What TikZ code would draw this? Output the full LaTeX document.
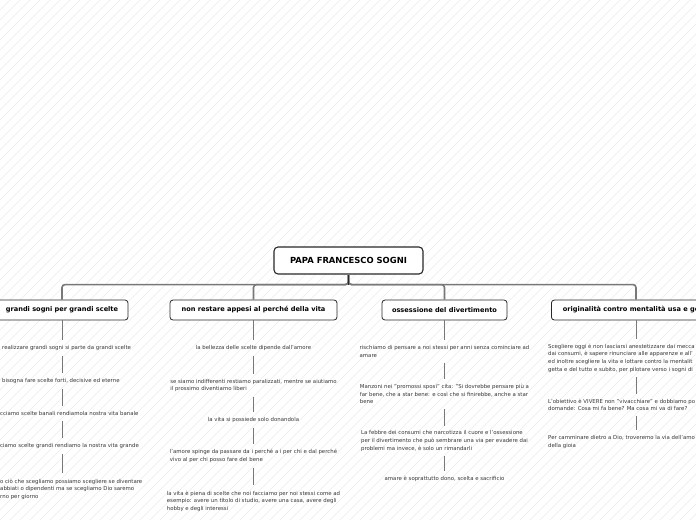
\documentclass[tikz,border=0pt]{standalone}
\usepackage{fontspec}
\setmainfont{DejaVu Sans}
\usetikzlibrary{positioning}
\definecolor{mapLine}{RGB}{120,120,120}
\definecolor{mapEdge}{RGB}{40,40,40}
\definecolor{mapText}{RGB}{55,55,55}
\definecolor{mapHatch}{RGB}{236,236,236}

\begin{document}
\begin{tikzpicture}[
    x=1pt, y=-1pt,
    root/.style={draw=mapEdge, line width=1.1pt, rounded corners=4pt, fill=white, minimum height=27pt, minimum width=149pt, font=\fontsize{8.4}{9}\selectfont\bfseries, text=black},
    topic/.style={draw=mapEdge, line width=0.8pt, rounded corners=3pt, fill=white, minimum height=20pt, inner xsep=6pt, font=\fontsize{6.6}{7}\selectfont\bfseries, text=black},
    leaf/.style={align=left, inner sep=5pt, font=\fontsize{5.4}{7.6}\selectfont, text=mapText},
    branch/.style={draw=mapLine, line width=1.6pt, rounded corners=3pt},
    twig/.style={draw=mapLine, line width=0.9pt}
]
    \useasboundingbox (0,0) rectangle (696,520);
    % background hatch
    \begin{scope}
        \clip (0,0) rectangle (696,520);
        \foreach \i in {0,10,...,1220}
            \draw[mapHatch, line width=0.5pt] (\i-520,520) -- (\i,0);
    \end{scope}

    % root and main topics
    \node[root] (papa) at (348.5,260.5) {PAPA FRANCESCO SOGNI};
    \node[topic, minimum width=132pt] (sogni) at (62,310) {grandi sogni per grandi scelte};
    \node[topic, minimum width=167pt] (perche) at (253.5,310) {non restare appesi al perché della vita};
    \node[topic, minimum width=125pt] (diverti) at (444.5,310) {ossessione del divertimento};
    \node[topic, minimum width=170pt, anchor=west] (origin) at (551,310) {originalità contro mentalità usa e getta};

    \foreach \t in {sogni,perche,diverti}
        \draw[branch] (papa.south) -- ++(0,10) -| (\t.north);
    \draw[branch] (papa.south) -- ++(0,10) -| (origin.north -| 636,0);
    \draw[mapEdge, line width=0.8pt] (papa.south) -- ++(0,10);

    % grandi sogni per grandi scelte
    \node[leaf, anchor=west] (s1) at (-3,348) {realizzare grandi sogni si parte da grandi scelte};
    \node[leaf, anchor=west] (s2) at (-3,381) {bisogna fare scelte forti, decisive ed eterne};
    \node[leaf, anchor=west] (s3) at (-5,413.5) {cciamo scelte banali rendiamola nostra vita banale};
    \node[leaf, anchor=west] (s4) at (-5,446) {ciamo scelte grandi rendiamo la nostra vita grande};
    \node[leaf, anchor=west] (s5) at (-5,489) {o ciò che scegliamo possiamo scegliere se diventare\\abbiati o dipendenti ma se scegliamo Dio saremo\\rno per giorno};
    \draw[twig] (sogni.south) -- (s1.north -| sogni.south);
    \draw[twig] (s1.south -| sogni.south) -- (s2.north -| sogni.south);
    \draw[twig] (s2.south -| sogni.south) -- (s3.north -| sogni.south);
    \draw[twig] (s3.south -| sogni.south) -- (s4.north -| sogni.south);
    \draw[twig] (s4.south -| sogni.south) -- (s5.north -| sogni.south);

    % non restare appesi al perche della vita
    \node[leaf] (p1) at (253.5,348) {la bellezza delle scelte dipende dall'amore};
    \node[leaf] (p2) at (253.5,385.5) {se siamo indifferenti restiamo paralizzati, mentre se aiutiamo\\il prossimo diventiamo liberi};
    \node[leaf] (p3) at (253.5,420) {la vita si possiede solo donandola};
    \node[leaf] (p4) at (253.5,456) {l'amore spinge da passare da i perché a i per chi e dal perché\\vivo al per chi posso fare del bene};
    \node[leaf] (p5) at (253.5,501) {la vita è piena di scelte che noi facciamo per noi stessi come ad\\esempio: avere un titolo di studio, avere una casa, avere degli\\hobby e degli interessi};
    \draw[twig] (perche.south) -- (p1.north);
    \draw[twig] (p1.south) -- (p2.north);
    \draw[twig] (p2.south) -- (p3.north);
    \draw[twig] (p3.south) -- (p4.north);
    \draw[twig] (p4.south) -- (p5.north);

    % ossessione del divertimento
    \node[leaf] (d1) at (444.5,351.5) {rischiamo di pensare a noi stessi per anni senza cominciare ad\\amare};
    \node[leaf] (d2) at (444.5,394) {Manzoni nei "promossi sposi" cita: "Si dovrebbe pensare più a\\far bene, che a star bene: e così che si finirebbe, anche a star\\bene};
    \node[leaf] (d3) at (444.5,441) {La febbre dei consumi che narcotizza il cuore e l'ossessione\\per il divertimento che può sembrare una via per evadere dai\\problemi ma invece, è solo un rimandarli};
    \node[leaf] (d4) at (444.5,479) {amare è soprattutto dono, scelta e sacrificio};
    \draw[twig] (diverti.south) -- (d1.north);
    \draw[twig] (d1.south) -- (d2.north);
    \draw[twig] (d2.south) -- (d3.north);
    \draw[twig] (d3.south) -- (d4.north);

    % originalita contro mentalita usa e getta
    \node[leaf, anchor=west] (o1) at (543,358) {Scegliere oggi è non lasciarsi anestetizzare dai mecca\\dai consumi, è sapere rinunciare alle apparenze e all'\\ed inoltre scegliere la vita e lottare contro la mentalit\\getta e del tutto e subito, per pilotare verso i sogni di};
    \node[leaf, anchor=west] (o2) at (543,405) {L'obiettivo è VIVERE non "vivacchiare" e dobbiamo po\\domande: Cosa mi fa bene? Ma cosa mi va di fare?};
    \node[leaf, anchor=west] (o3) at (543,442) {Per camminare dietro a Dio, troveremo la via dell'amo\\della gioia};
    \draw[twig] (origin.south -| 636,0) -- (o1.north -| 636,0);
    \draw[twig] (o1.south -| 636,0) -- (o2.north -| 636,0);
    \draw[twig] (o2.south -| 636,0) -- (o3.north -| 636,0);
\end{tikzpicture}
\end{document}
